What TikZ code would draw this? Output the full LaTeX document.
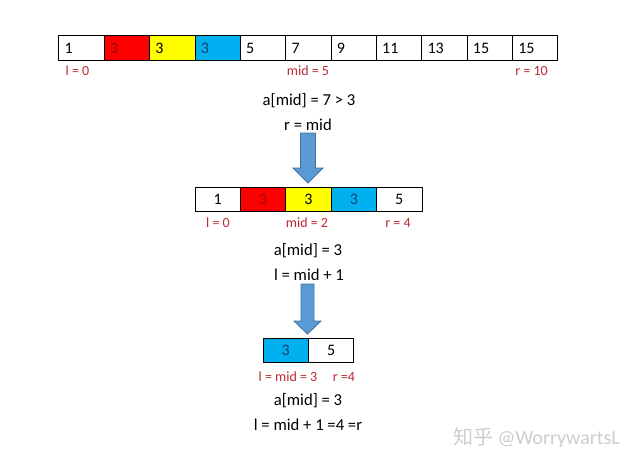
\documentclass[tikz,border=0pt]{standalone}
\usepackage{fontspec}
\setmainfont{Carlito}
\newfontfamily\cjkfont{Noto Sans CJK SC}
\definecolor{lblred}{RGB}{192,40,50}
\definecolor{cellred}{RGB}{255,0,0}
\definecolor{cellyel}{RGB}{255,255,0}
\definecolor{cellblue}{RGB}{0,176,240}
\definecolor{txtred}{RGB}{150,10,10}
\definecolor{txtblue}{RGB}{20,60,110}
\definecolor{arrfill}{RGB}{91,155,213}
\definecolor{arrdraw}{RGB}{65,113,156}
\definecolor{wmgray}{RGB}{205,205,205}
\begin{document}
\begin{tikzpicture}[x=0.75pt,y=-0.75pt,
  cellbase/.style={draw=black, line width=0.75pt, minimum height=18.4pt, inner ysep=0pt, font=\fontsize{12}{14}\selectfont},
  lcell/.style={cellbase, inner xsep=4.3pt, text width=25.45pt, align=left},
  ccell/.style={cellbase, inner sep=0pt, minimum width=34.05pt},
  lbl/.style={text=lblred, inner sep=0pt, font=\fontsize{10.5}{12}\selectfont},
  note/.style={text=black, inner sep=0pt, font=\fontsize{12.5}{15}\selectfont},
  blockarrow/.style={fill=arrfill, draw=arrdraw, line width=0.6pt, line join=miter}]
\fill[white] (0,0) rectangle (636,469);
\useasboundingbox (0,0) rectangle (636,469);
% top array
\foreach \v/\f/\t [count=\i] in {1/white/black,3/cellred/txtred,3/cellyel/black,3/cellblue/txtblue,5/white/black,7/white/black,9/white/black,11/white/black,13/white/black,15/white/black,15/white/black}
  \node[lcell, fill=\f, text=\t] (t\i) at ({59+45.36*(\i-0.5)},48) {\v};
\node[lbl] (tl) at (77.5,71) {l = 0};
\node[lbl] (tm) at (308,71) {mid = 5};
\node[lbl] (tr) at (531.5,71) {r = 10};
\node[note] (n1) at (309,101) {a[mid] = 7 > 3};
\node[note] (n2) at (308,125) {r = mid};
\draw[blockarrow] (300.5,133) -- (315.5,133) -- (315.5,168) -- (323,168) -- (308,183) -- (293,168) -- (300.5,168) -- cycle;
% middle array
\foreach \v/\f/\t [count=\i] in {1/white/black,3/cellred/txtred,3/cellyel/black,3/cellblue/txtblue,5/white/black}
  \node[ccell, fill=\f, text=\t] (m\i) at ({195+45.4*(\i-0.5)},199.5) {\v};
\node[lbl] (ml) at (218,223) {l = 0};
\node[lbl] (mm) at (307,223) {mid = 2};
\node[lbl] (mr) at (398,223) {r = 4};
\node[note] (n3) at (308,251) {a[mid] = 3};
\node[note] (n4) at (309,275) {l = mid + 1};
\draw[blockarrow] (301,284) -- (314,284) -- (314,321) -- (321,321) -- (307.5,334) -- (294,321) -- (301,321) -- cycle;
% bottom array
\foreach \v/\f/\t [count=\i] in {3/cellblue/txtblue,5/white/black}
  \node[ccell, fill=\f, text=\t] (b\i) at ({263+45.5*(\i-0.5)},350.5) {\v};
\node[lbl] (bl) at (288,377) {l = mid = 3};
\node[lbl] (br) at (344,377) {r =4};
\node[note] (n5) at (308,401) {a[mid] = 3};
\node[note] (n6) at (308,425) {l = mid + 1 =4 =r};
% watermark
\node[text=wmgray, inner sep=0pt, anchor=east, font=\fontsize{15}{17}\selectfont] (wm) at (620,438) {{\cjkfont 知乎} @WorrywartsL};
\end{tikzpicture}
\end{document}
